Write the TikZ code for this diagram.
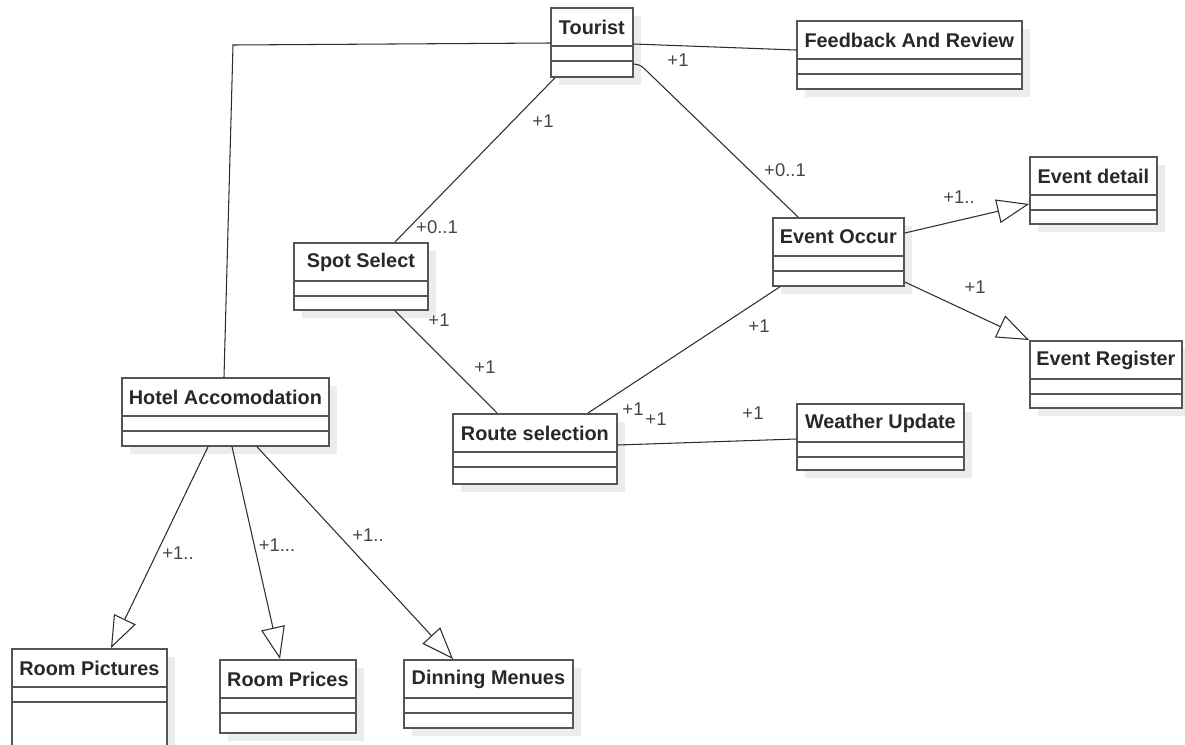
\documentclass[tikz,border=0pt]{standalone}
\usepackage{fontspec}
\setmainfont{Liberation Sans}
\usetikzlibrary{arrows.meta}
\definecolor{boxgray}{RGB}{85,85,85}
\definecolor{shadegray}{RGB}{236,236,236}
\definecolor{linegray}{RGB}{45,45,45}
\definecolor{textgray}{RGB}{40,40,40}
\definecolor{multgray}{RGB}{70,70,70}

% class box: name, left, top, width, height, title (pixel units)
\newcommand{\umlclass}[6]{%
  \fill[shadegray] (#2+9,#3+9) rectangle ++(#4,#5);
  \node[classbox, minimum width=#4*0.02cm, minimum height=#5*0.02cm] (#1) at (#2,#3) {};
  \node[classname] (#1-name) at ([shift={(0,20)}]#1.north) {#6};
  \draw[compline] ([shift={(0,39)}]#1.north west) -- ([shift={(0,39)}]#1.north east);
  \draw[compline] ([shift={(0,54)}]#1.north west) -- ([shift={(0,54)}]#1.north east);
}

\begin{document}
\begin{tikzpicture}[x=0.02cm, y=-0.02cm,
  classbox/.style={draw=boxgray, line width=1pt, fill=white, anchor=north west, inner sep=0pt},
  classname/.style={font=\fontsize{11.3}{13}\selectfont\bfseries, text=textgray, inner sep=0pt},
  compline/.style={boxgray, line width=1pt},
  assoc/.style={linegray, line width=.6pt},
  gen/.style={assoc, -{Triangle[open, fill=white, length=0.64cm, width=0.48cm]}},
  mult/.style={font=\fontsize{10.5}{12}\selectfont, text=multgray, inner sep=0pt}]
\useasboundingbox (0,0) rectangle (1185,744);

\umlclass{tourist}{550}{7}{82}{69}{Tourist}
\umlclass{feedback}{796}{20}{225}{68}{Feedback And Review}
\umlclass{spot}{293}{242}{134}{67}{Spot Select}
\umlclass{event}{772}{217}{131}{68}{Event Occur}
\umlclass{detail}{1029}{156}{127}{67}{Event detail}
\umlclass{register}{1029}{340}{152}{67}{Event Register}
\umlclass{hotel}{121}{377}{207}{68}{Hotel Accomodation}
\umlclass{route}{452}{413}{164}{70}{Route selection}
\umlclass{weather}{796}{403}{167}{66}{Weather Update}
\umlclass{pictures}{11}{648}{155}{110}{Room Pictures}
\umlclass{prices}{219}{659}{136}{73}{Room Prices}
\umlclass{menues}{403}{659}{169}{68}{Dinning Menues}

% associations
\draw[assoc] ([shift={(103,0)}]hotel.north west) -- ++(9,-332) -- ([shift={(0,36)}]tourist.north west);
\draw[assoc] ([shift={(0,37)}]tourist.north east) -- ([shift={(0,30)}]feedback.north west);
\draw[assoc] ([shift={(5,0)}]tourist.south west) -- ([shift={(102,0)}]spot.north west);
\draw[assoc] ([shift={(0,57)}]tourist.north east) to[out=0,in=135] ++(14,8) -- ([shift={(26,0)}]event.north west);
\draw[assoc] ([shift={(102,0)}]spot.south west) -- ([shift={(45,0)}]route.north west);
\draw[assoc] ([shift={(8,0)}]event.south west) -- ([shift={(136,0)}]route.north west);
\draw[assoc] ([shift={(0,32)}]route.north east) -- ([shift={(0,36)}]weather.north west);

% generalisations
\draw[gen] ([shift={(0,16)}]event.north east) -- ([shift={(0,48)}]detail.north west);
\draw[gen] ([shift={(0,65)}]event.north east) -- (register.north west);
\draw[gen] ([shift={(87,0)}]hotel.south west) -- ([shift={(100,0)}]pictures.north west);
\draw[gen] ([shift={(111,0)}]hotel.south west) -- ([shift={(61,0)}]prices.north west);
\draw[gen] ([shift={(136,0)}]hotel.south west) -- ([shift={(50,0)}]menues.north west);

% multiplicities
\foreach \px/\py/\txt [count=\i] in {678/60/{+1}, 543/121/{+1}, 437/227/{+0..1}, 785/170/{+0..1},
  959/197/{+1..}, 975/287/{+1}, 439/320/{+1}, 485/367/{+1}, 759/326/{+1}, 633/409/{+1},
  656/419/{+1}, 753/413/{+1}, 178/553/{+1..}, 277/545/{+1...}, 368/535/{+1..}}
{
  \node[mult] (mult\i) at (\px,\py) {\txt};
}

\end{tikzpicture}
\end{document}
